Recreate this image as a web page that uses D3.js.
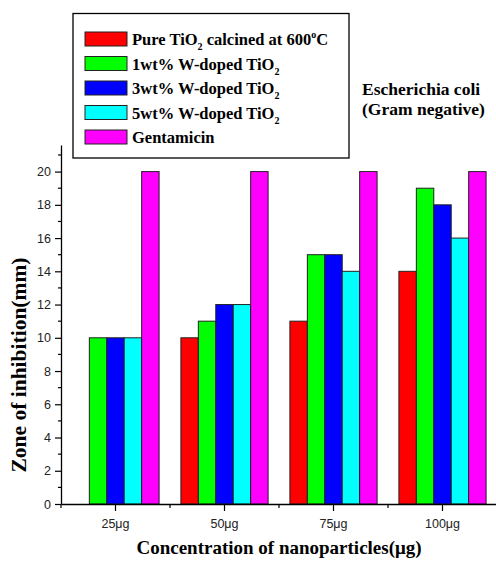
<!DOCTYPE html>
<html>
<head>
<meta charset="utf-8">
<script src="https://cdn.jsdelivr.net/npm/d3@7"></script>
<style>
  body { margin: 0; background: #fff; }
  svg { display: block; }
</style>
</head>
<body>
<svg id="chart" width="496" height="562"></svg>
<script>
// data
var categories = ["25μg", "50μg", "75μg", "100μg"];
var seriesKeys = ["pure", "w1", "w3", "w5", "gent"];
var pureTiO2 = [0, 10, 11, 14];
var w1TiO2 = [10, 11, 15, 19];
var w3TiO2 = [10, 12, 15, 18];
var w5TiO2 = [10, 12, 14, 16];
var gentamicin = [20, 20, 20, 20];
var colors = ["#ff0000", "#00ff00", "#0000ff", "#00ffff", "#ff00ff"];
var yTicks = [0, 2, 4, 6, 8, 10, 12, 14, 16, 18, 20];
var yMinor = [1, 3, 5, 7, 9, 11, 13, 15, 17, 19, 21];
// legend text pieces: [text, "sub" | "sup" | ""]
var legendLabels = [
    [["Pure TiO", ""], ["2", "sub"], [" calcined at 600", ""], ["o", "sup"], ["C", ""]],
    [["1wt% W-doped TiO", ""], ["2", "sub"]],
    [["3wt% W-doped TiO", ""], ["2", "sub"]],
    [["5wt% W-doped TiO", ""], ["2", "sub"]],
    [["Gentamicin", ""]]
];

var allSeries = [pureTiO2, w1TiO2, w3TiO2, w5TiO2, gentamicin];
var rows = categories.map(function (c, i) {
    return {
        cat: c,
        vals: seriesKeys.map(function (k, j) {
            return { key: k, idx: j, value: allSeries[j][i] };
        })
    };
});

var serif = "'Times New Roman', 'Liberation Serif', serif";
var sans = "Arial, 'Liberation Sans', sans-serif";

var svg = d3.select("#chart");

var x = d3.scaleBand().domain(categories).range([61, 497]).padding(0);
var bw = x.bandwidth();
var xs = d3.scaleBand().domain(seriesKeys).range([bw * 0.1, bw * 0.9]).padding(0);
var y = d3.scaleLinear().domain([0, 21.6]).range([504, 145]);

// bars
var groups = svg.append("g")
    .attr("id", "bars")
    .selectAll("g")
    .data(rows)
    .enter()
    .append("g")
    .attr("transform", function (d) {
        return "translate(" + x(d.cat) + ",0)";
    });

groups.selectAll("rect")
    .data(function (d) {
        return d.vals.filter(function (v) { return v.value > 0; });
    })
    .enter()
    .append("rect")
    .attr("x", function (d) { return xs(d.key); })
    .attr("y", function (d) { return y(d.value); })
    .attr("width", xs.bandwidth())
    .attr("height", function (d) { return y(0) - y(d.value); })
    .attr("fill", function (d) { return colors[d.idx]; })
    .attr("stroke", "#222")
    .attr("stroke-width", 1);

// y axis
var yAxis = svg.append("g")
    .attr("transform", "translate(61,0)")
    .call(d3.axisLeft(y).tickValues(yTicks).tickSize(6).tickPadding(4).tickSizeOuter(0));
yAxis.select(".domain").attr("stroke-width", 1.3);
yAxis.selectAll(".tick line").attr("stroke-width", 1.2);
yAxis.selectAll("text")
    .attr("font-family", sans)
    .attr("font-size", "12.5px")
    .attr("fill", "#222");

svg.append("g")
    .selectAll("line")
    .data(yMinor)
    .enter()
    .append("line")
    .attr("x1", 58)
    .attr("x2", 61)
    .attr("y1", function (d) { return y(d); })
    .attr("y2", function (d) { return y(d); })
    .attr("stroke", "#000")
    .attr("stroke-width", 1.2);

// x axis
var xAxis = svg.append("g")
    .attr("transform", "translate(0,504)")
    .call(d3.axisBottom(x).tickSize(7).tickPadding(8).tickSizeOuter(0));
xAxis.select(".domain").attr("stroke-width", 1.3);
xAxis.selectAll(".tick line").attr("stroke-width", 1.2);
xAxis.selectAll("text")
    .attr("font-family", sans)
    .attr("font-size", "12.5px")
    .attr("fill", "#222");

var bounds = categories.map(function (c) { return x(c); });
svg.append("g")
    .selectAll("line")
    .data(bounds)
    .enter()
    .append("line")
    .attr("x1", function (d) { return d; })
    .attr("x2", function (d) { return d; })
    .attr("y1", 504)
    .attr("y2", 508)
    .attr("stroke", "#000")
    .attr("stroke-width", 1.2);

// axis titles
svg.append("text")
    .attr("x", 279)
    .attr("y", 554)
    .attr("text-anchor", "middle")
    .attr("font-family", serif)
    .attr("font-weight", "bold")
    .attr("font-size", "19px")
    .text("Concentration of nanoparticles(μg)");

svg.append("text")
    .attr("transform", "translate(26,365) rotate(-90)")
    .attr("text-anchor", "middle")
    .attr("font-family", serif)
    .attr("font-weight", "bold")
    .attr("font-size", "21.5px")
    .text("Zone of inhibition(mm)");

// organism note
svg.append("text")
    .attr("x", 362)
    .attr("y", 95)
    .attr("font-family", serif)
    .attr("font-weight", "bold")
    .attr("font-size", "17.5px")
    .text("Escherichia coli");
svg.append("text")
    .attr("x", 362)
    .attr("y", 115)
    .attr("font-family", serif)
    .attr("font-weight", "bold")
    .attr("font-size", "17.5px")
    .text("(Gram negative)");

// legend
var legend = svg.append("g").attr("id", "legend");
legend.append("rect")
    .attr("x", 73)
    .attr("y", 13.5)
    .attr("width", 276)
    .attr("height", 144.5)
    .attr("fill", "#fff")
    .attr("stroke", "#000")
    .attr("stroke-width", 1.3);

var items = legend.selectAll("g.item")
    .data(legendLabels)
    .enter()
    .append("g")
    .attr("class", "item")
    .attr("transform", function (d, i) {
        return "translate(0," + (32 + i * 24.5) + ")";
    });

items.append("rect")
    .attr("x", 85)
    .attr("y", 0)
    .attr("width", 42)
    .attr("height", 14)
    .attr("fill", function (d, i) { return colors[i]; })
    .attr("stroke", "#222")
    .attr("stroke-width", 1);

items.each(function (parts) {
    var t = d3.select(this).append("text")
        .attr("x", 132)
        .attr("y", 13)
        .attr("font-family", serif)
        .attr("font-weight", "bold")
        .attr("font-size", "16.5px");
    var shift = 0;
    parts.forEach(function (p) {
        var dy = 0, size = "16.5px";
        if (p[1] == "sub") { dy = 5 - shift; shift = 5; size = "10px"; }
        else if (p[1] == "sup") { dy = -7 - shift; shift = -7; size = "10px"; }
        else { dy = -shift; shift = 0; }
        t.append("tspan")
            .attr("dy", dy)
            .attr("font-size", size)
            .text(p[0]);
    });
});
</script>
</body>
</html>
